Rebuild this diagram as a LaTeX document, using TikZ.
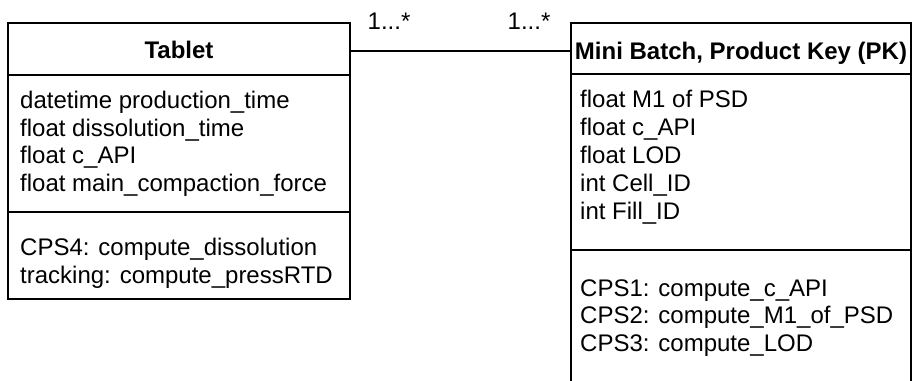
\documentclass[tikz,border=0pt]{standalone}
\usepackage{fontspec}
\setmainfont{Liberation Sans}
\begin{document}
\begin{tikzpicture}[x=1pt,y=-1pt,
  box/.style={draw=black, line width=2pt, rectangle, inner sep=0pt},
  txt/.style={anchor=base west, inner sep=0pt, font=\fontsize{24}{28}\selectfont},
  head/.style={anchor=base, inner sep=0pt, font=\fontsize{24}{28}\selectfont\bfseries},
  link/.style={draw=black, line width=2pt}]
\useasboundingbox[fill=white] (0,0) rectangle (912,380);
% Tablet class
\node[box, minimum width=342pt, minimum height=52pt] (tabhead) at (179,49) {};
\node[box, minimum width=342pt, minimum height=137pt] (tabattr) at (179,143.5) {};
\node[box, minimum width=342pt, minimum height=87pt] (tabmeth) at (179,255.5) {};
\node[head] (tabtitle) at (179,58) {Tablet};
\node[txt] (ta1) at (20,108) {datetime production\_time};
\node[txt] (ta2) at (20,136) {float dissolution\_time};
\node[txt] (ta3) at (20,163.5) {float c\_API};
\node[txt] (ta4) at (20,191) {float main\_compaction\_force};
\node[txt] (tm1) at (20,255) {CPS4: compute\_dissolution};
\node[txt] (tm2) at (20,283) {tracking: compute\_pressRTD};
% Mini Batch class
\node[box, minimum width=340pt, minimum height=51pt] (mbhead) at (741,48.5) {};
\node[box, minimum width=340pt, minimum height=176pt] (mbattr) at (741,162) {};
\node[box, minimum width=340pt, minimum height=140pt] (mbmeth) at (741,320) {};
\node[head] (mbtitle) at (741,59) {Mini Batch, Product Key (PK)};
\node[txt] (ma1) at (580,107.5) {float M1 of PSD};
\node[txt] (ma2) at (580,135) {float c\_API};
\node[txt] (ma3) at (580,163) {float LOD};
\node[txt] (ma4) at (580,191) {int Cell\_ID};
\node[txt] (ma5) at (580,219) {int Fill\_ID};
\node[txt] (mm1) at (580,296) {CPS1: compute\_c\_API};
\node[txt] (mm2) at (580,323.5) {CPS2: compute\_M1\_of\_PSD};
\node[txt] (mm3) at (580,351) {CPS3: compute\_LOD};
% association
\draw[link] (tabhead.east |- 0,51) -- (mbhead.west |- 0,51);
\node[txt] (mult1) at (367.5,29) {1...*};
\node[txt] (mult2) at (507.5,29) {1...*};
\end{tikzpicture}
\end{document}
